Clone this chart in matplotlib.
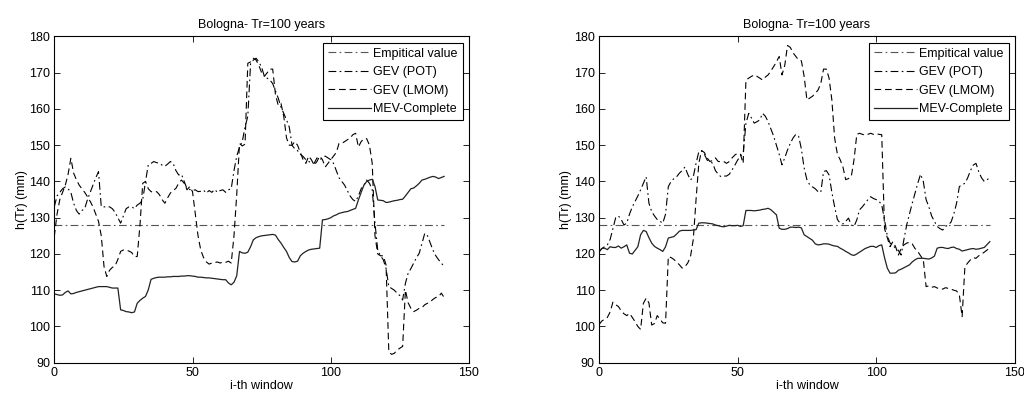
import numpy as np
import matplotlib
matplotlib.use("Agg")
import matplotlib.pyplot as plt

plt.rcParams["font.family"] = ["Liberation Sans", "DejaVu Sans"]
plt.rcParams["font.size"] = 9

title = "Bologna- Tr=100 years"
x_label = "i-th window"
y_label = "h(Tr) (mm)"
legend_labels = ["Empitical value", "GEV (POT)", "GEV (LMOM)", "MEV-Complete"]
x_ticks = [0, 50, 100, 150]
y_ticks = [90, 100, 110, 120, 130, 140, 150, 160, 170, 180]

empirical_value = 128.0

# ---- left panel -------------------------------------------------------
left_pot = [
    133, 136, 137, 138, 138.5, 138, 137, 134, 132, 131,
    132, 132.5, 135, 137, 139, 141, 142.7, 133, 133, 133,
    133, 132.5, 131.5, 130, 128.5, 130.5, 132.5, 133, 133, 132.5,
    133.5, 134, 135, 140, 144.6, 145, 145.5, 145.2, 145, 144.5,
    144.2, 144.8, 145.5, 145, 143, 141.8, 142, 140, 138, 137.8,
    137.5, 137.7, 137.2, 137.3, 137.6, 136.8, 137.5, 137, 137.8, 137,
    137.5, 137.7, 137, 137.7, 138, 143, 147, 149.5, 151, 155,
    158, 172.5, 173.5, 174, 173, 171.5, 169, 168.5, 168, 167,
    165, 163, 160.5, 158.8, 157, 155, 150, 149, 148.5, 147.5,
    146.9, 146, 145.5, 145.2, 145, 146.5, 146, 146.5, 147, 146.5,
    146, 145, 143, 141, 140, 139, 137.5, 136, 135, 134.5,
    136, 138, 139, 140.4, 139.5, 137.7, 128.5, 121, 119.5, 118.4,
    116, 111, 110.5, 110, 109.2, 108.5, 107.3, 111.9, 114.7, 116,
    117.5, 119, 120.2, 123, 125.7, 125, 123, 121, 119.5, 118.4,
    117.5, 116.5,
]
left_lmom = [
    124.8, 131, 135, 137, 139, 142, 146.4, 142.3, 140.5, 139,
    138, 137, 135.8, 134.5, 133, 131, 129, 125, 116.5, 113.8,
    115.5, 116.3, 116.7, 118.5, 120.7, 121.1, 121.1, 120.8, 120.4, 119.3,
    119.3, 128, 139.5, 140, 138, 137.2, 137, 137.2, 136.4, 135,
    134, 135.5, 136.8, 137.5, 138.1, 139.5, 140.4, 139.5, 137.7, 138.6,
    137.2, 131, 125, 121, 119, 117.8, 117.2, 117.5, 117.6, 117.8,
    117.5, 117.8, 117.7, 118, 117.5, 125, 136.5, 150.5, 149.8, 150.3,
    172.6, 173, 174, 173.5, 172, 170, 169, 170, 171, 171,
    164, 161, 161.5, 158, 152, 150, 150, 151, 150, 148,
    146, 145, 147, 146, 144.5, 145.5, 147, 146, 144, 145,
    146, 147, 148, 150.5, 150.5, 151, 151.5, 152, 152.9, 153.3,
    149.5, 151, 151.8, 151.8, 150, 145, 125, 120, 119.5, 119.5,
    117, 93, 92.3, 92.6, 93.5, 94, 94.5, 110, 106.5, 105,
    104.1, 104.5, 105, 105.2, 106, 106.4, 106.8, 107.5, 108, 108.2,
    109.2, 108,
]
left_mev = [
    109, 108.8, 108.6, 108.7, 109.4, 109.8, 109, 109.1, 109.4, 109.6,
    109.8, 110, 110.2, 110.4, 110.6, 110.8, 111, 111, 111, 111,
    110.8, 110.6, 110.6, 110.6, 104.6, 104.4, 104.1, 104, 103.8, 104,
    106.4, 107.2, 107.8, 108.3, 110.1, 113, 113.3, 113.5, 113.6, 113.6,
    113.6, 113.7, 113.7, 113.8, 113.8, 113.8, 113.9, 113.9, 114, 114,
    113.9, 113.8, 113.6, 113.6, 113.5, 113.4, 113.4, 113.3, 113.2, 113.1,
    113, 112.9, 112.9, 112, 111.5, 112.2, 114, 120.7, 120.3, 120.2,
    120.5, 122, 123.9, 124.5, 124.8, 125, 125.1, 125.2, 125.3, 125.4,
    125.2, 124, 123, 121.8, 120.7, 119, 117.9, 117.8, 118, 119.5,
    120.2, 120.7, 121.1, 121.3, 121.4, 121.5, 121.6, 129.4, 129.5, 129.7,
    130, 130.5, 130.8, 131.2, 131.4, 131.6, 131.7, 132, 132.3, 132.6,
    134.9, 137, 139, 140, 140.4, 140.6, 138.6, 134.9, 134.8, 134.7,
    134.2, 134.3, 134.5, 134.7, 134.8, 135, 135.1, 136, 137, 138,
    138.2, 138.8, 139.5, 140.4, 140.6, 140.9, 141.2, 141.4, 141.2, 140.8,
    141.1, 141.4,
]

# ---- right panel ------------------------------------------------------
right_pot = [
    120.5, 121.5, 122, 122.5, 124, 127, 130, 130.5, 129.5, 128,
    128.5, 131, 133, 134.5, 136, 137.7, 139.5, 141.3, 134, 131.7,
    130.5, 129.5, 129, 128.5, 131, 138.6, 140, 140.8, 141.3, 142.3,
    143, 144, 142, 140.4, 141.3, 145, 148.2, 148.5, 147.5, 145.9,
    145.5, 145, 143, 142, 141.3, 141.5, 141.5, 142, 143.2, 144.5,
    145.9, 147, 147.8, 156, 158.8, 157.5, 156.1, 156.5, 157, 158.8,
    158, 156.5, 154.5, 152.5, 150, 147.5, 144.6, 146.5, 148.7, 150.5,
    152, 153, 152.5, 149, 143.7, 140.5, 139.1, 138.5, 138, 137.2,
    137, 142.7, 143, 141.8, 137, 133, 129.5, 128.5, 128.3, 129,
    129.9, 128, 127.6, 129.4, 132.2, 133, 134, 135, 135.8, 135.3,
    135, 134.6, 133.5, 129.4, 125, 123, 122.5, 121.5, 121, 119.7,
    124, 128, 131, 134, 136.8, 139.5, 142, 140, 135, 133,
    130.5, 129, 127.6, 127, 126.6, 127.6, 128, 128.8, 131, 134,
    138.6, 139.1, 139.5, 141, 143, 144.5, 145, 142.7, 141, 140,
    140.5, 141,
]
right_lmom = [
    100.5, 101.5, 102, 102.5, 104, 106.7, 106, 105.5, 104.3, 103.5,
    103, 103.6, 102.5, 101.3, 100, 99.2, 106.4, 107.8, 106.5, 100.4,
    100.8, 103, 102, 101, 100.9, 119.3, 119, 118.5, 117.8, 117,
    116.1, 116.5, 117.5, 119.3, 124, 135, 145, 148.5, 148, 146.5,
    145.5, 145.8, 146.5, 145.5, 145.5, 145.5, 145, 145.5, 146.5, 147.3,
    147.8, 147.5, 145, 168, 168.5, 169, 169.4, 169, 168.5, 168,
    168.8, 169.4, 170.5, 171.7, 173, 174.5, 169.4, 172, 177.5, 177,
    175.5, 174.5, 173.5, 173.3, 169, 162.5, 163, 163.5, 164.3, 165.2,
    167, 171, 171, 168.5, 162.5, 152, 147.5, 146, 144, 140.5,
    140.8, 141.3, 146, 153, 153.3, 153, 152.8, 153, 153.3, 153,
    153.2, 153, 152.9, 127, 124.5, 122, 123.4, 122, 119.7, 121.5,
    122.5, 123, 123.2, 122.8, 121.5, 120.7, 119.5, 118.4, 111, 111.2,
    110.8, 111, 110.6, 110.5, 110.3, 110.7, 110.5, 110.3, 110, 109.8,
    108.7, 102.7, 116.5, 117.5, 118.4, 119, 118.8, 119.5, 120, 120.5,
    121.1, 121.6,
]
right_mev = [
    120.7, 121.5, 121.6, 121.2, 122, 121.8, 121.8, 122.2, 121.6, 122,
    122.5, 120.2, 120, 121, 122, 125.3, 126.5, 126.2, 124.5, 123,
    122.1, 121.6, 121.2, 120.7, 122, 124.4, 124.6, 124.8, 125.5, 126.3,
    126.5, 126.5, 126.5, 126.5, 126.6, 126.7, 128.5, 128.6, 128.6, 128.5,
    128.4, 128.3, 128, 127.8, 127.6, 127.5, 127.7, 127.9, 127.8, 127.8,
    127.9, 127.6, 127.8, 132, 132, 132, 131.9, 132, 132.1, 132.3,
    132.4, 132.6, 132.2, 131.5, 130.8, 127.1, 126.8, 126.8, 127, 127.4,
    127.4, 127.3, 127.4, 127.2, 125.3, 124.8, 124.3, 123.8, 122.8, 122.5,
    122.6, 122.8, 122.8, 122.7, 122.4, 122.2, 122.1, 121.6, 121.2, 120.7,
    120.3, 119.8, 119.6, 120, 120.5, 121, 121.5, 121.8, 122.1, 122.1,
    121.8, 122.3, 122.5, 119, 116.1, 114.7, 114.7, 114.8, 115.5, 115.8,
    116.2, 116.6, 117, 117.8, 118.4, 118.8, 118.8, 118.8, 118.7, 118.6,
    118.9, 119.4, 121.6, 121.8, 121.8, 121.6, 121.5, 121.8, 121.9, 121.5,
    121.3, 120.8, 121, 121.2, 121.4, 121.5, 121.3, 121.4, 121.6, 121.8,
    122.6, 123.4,
]

panels = [
    (left_pot, left_lmom, left_mev),
    (right_pot, right_lmom, right_mev),
]
axes_rects = [
    [0.053, 0.0794, 0.405, 0.828],
    [0.585, 0.0794, 0.406, 0.828],
]

fig = plt.figure(figsize=(10.24, 3.94), dpi=100)

for rect, (pot, lmom, mev) in zip(axes_rects, panels):
    ax = fig.add_axes(rect)
    windows = np.arange(len(mev))
    ax.plot(windows, np.full(len(windows), empirical_value),
            color="#555555", lw=0.8, linestyle=(0, (7, 3, 1.5, 3)),
            label=legend_labels[0])
    ax.plot(np.arange(len(pot)), pot, color="black", lw=0.8,
            linestyle=(0, (7, 3, 1.5, 3)), label=legend_labels[1])
    ax.plot(np.arange(len(lmom)), lmom, color="black", lw=0.8,
            linestyle=(0, (6, 3.5)), label=legend_labels[2])
    ax.plot(windows, mev, color="#222222", lw=0.9, linestyle="-",
            label=legend_labels[3])

    ax.set_xlim(0, 150)
    ax.set_ylim(90, 180)
    ax.set_xticks(x_ticks)
    ax.set_yticks(y_ticks)
    ax.tick_params(direction="in", top=True, right=True, length=4,
                   width=0.6, labelsize=9, colors="black", pad=3)
    for sp in ax.spines.values():
        sp.set_linewidth(0.8)
    ax.set_title(title, fontsize=9, pad=6)
    ax.set_xlabel(x_label, fontsize=9, labelpad=1)
    ax.set_ylabel(y_label, fontsize=9, labelpad=1)

    leg = ax.legend(loc="upper right", fontsize=9, handlelength=3.4,
                    handletextpad=0.2, labelspacing=0.52,
                    borderaxespad=0.5, borderpad=0.4, fancybox=False,
                    framealpha=1, edgecolor="black")
    leg.get_frame().set_linewidth(0.8)

fig.savefig("out.png", dpi=100)
